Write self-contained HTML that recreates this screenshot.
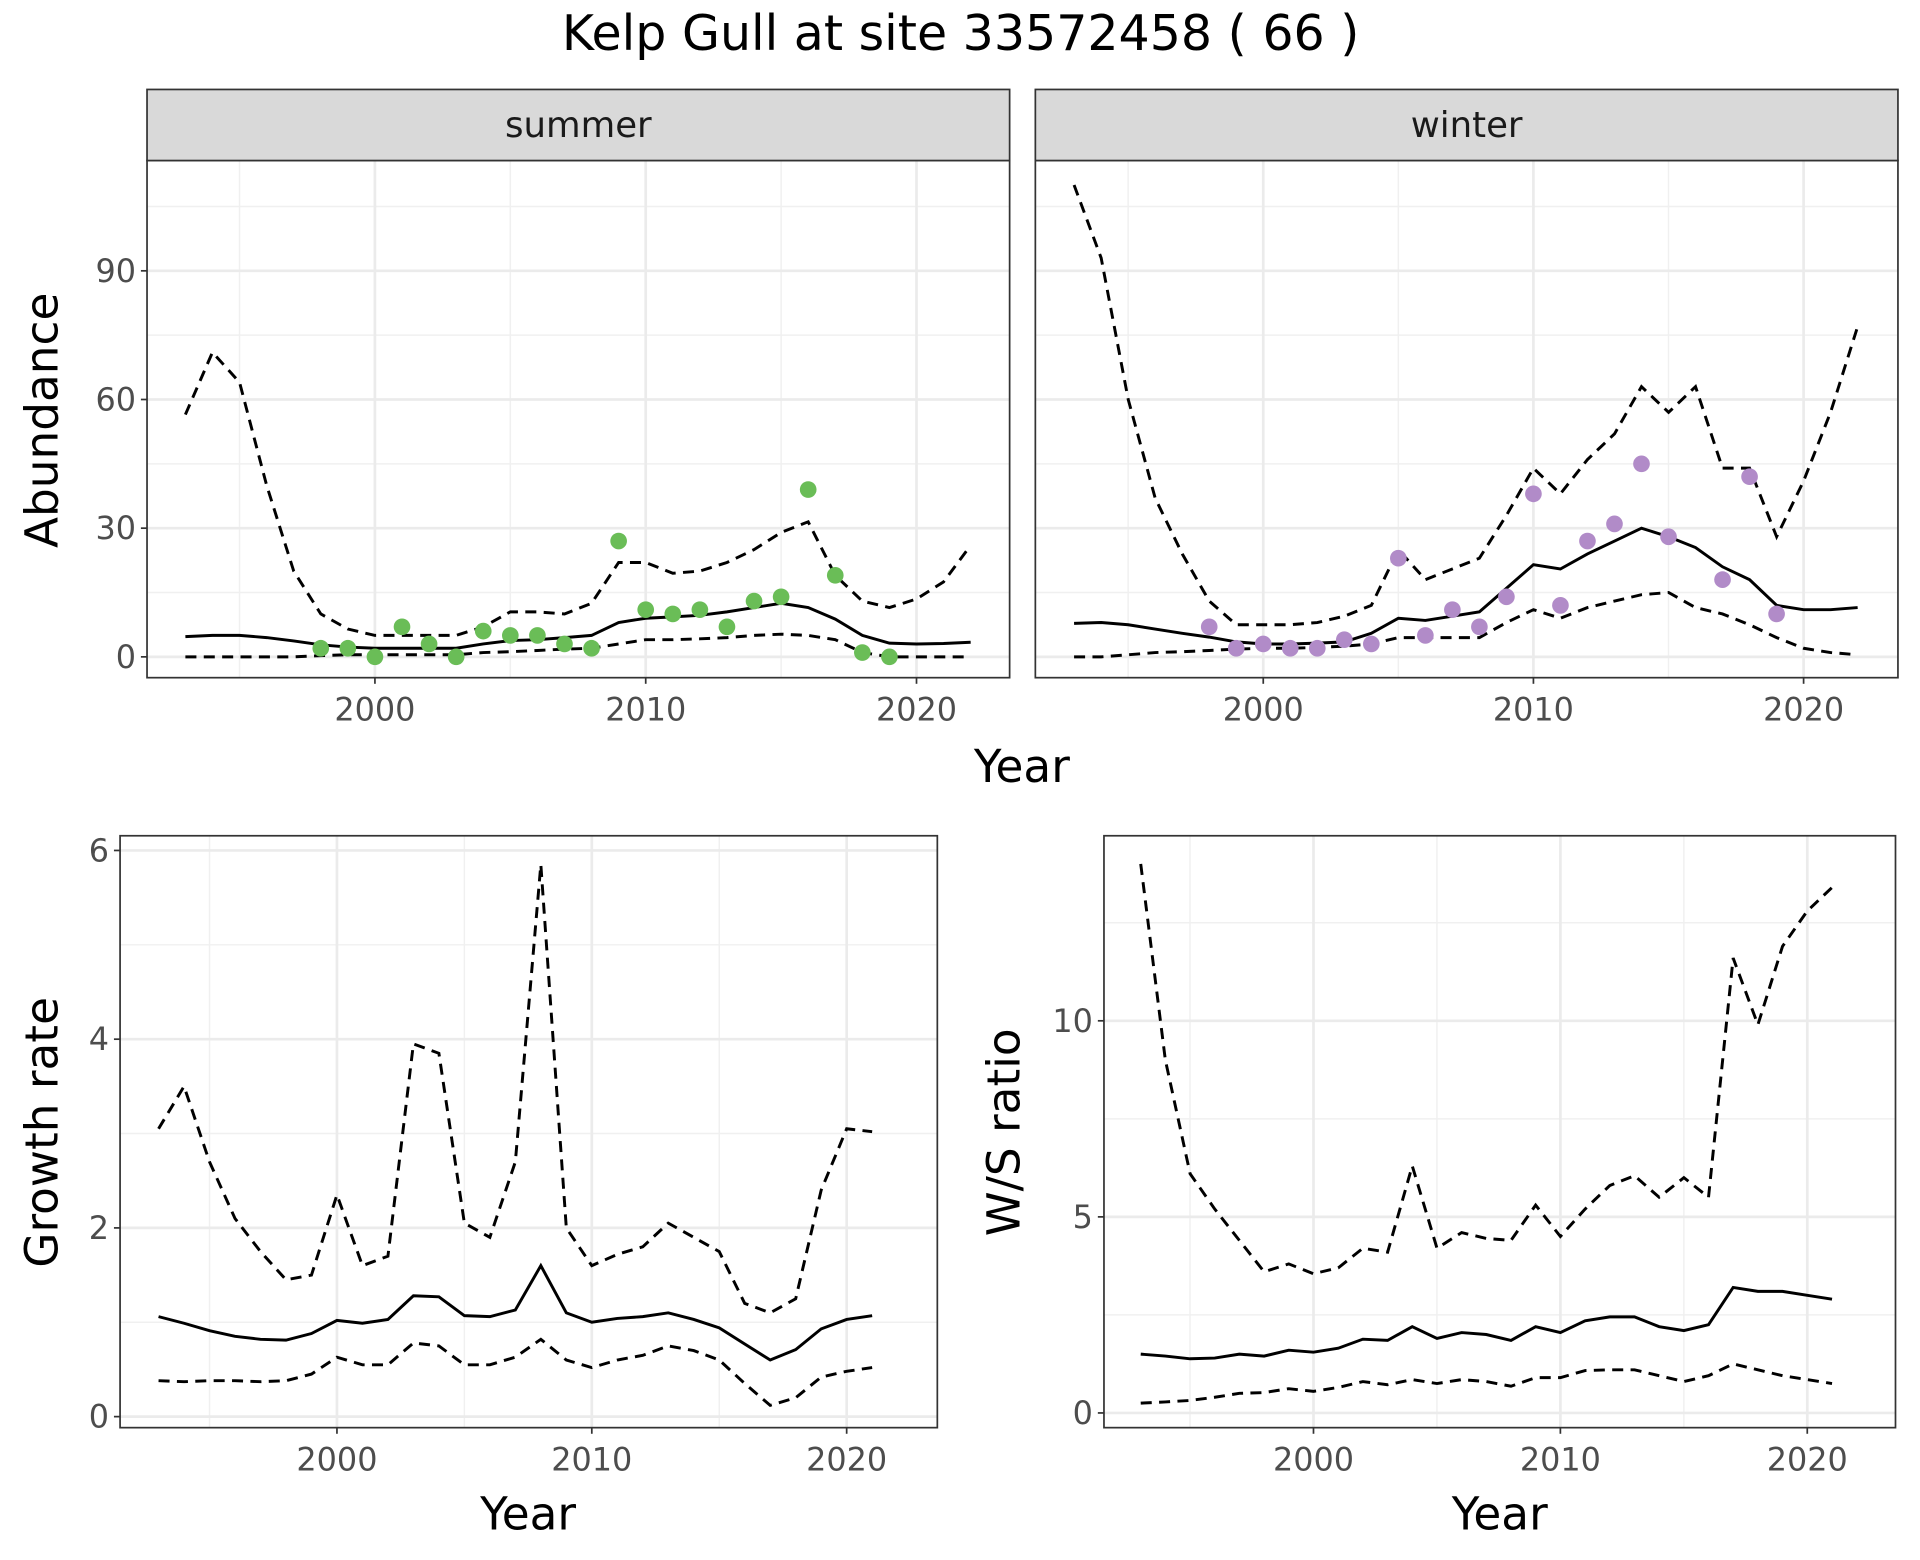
<!DOCTYPE html>
<html><head><meta charset="utf-8"><style>
html,body{margin:0;padding:0;background:#fff;}
svg{display:block;font-family:"DejaVu Sans","Liberation Sans",sans-serif;}
</style></head><body>
<svg id="chart" width="1920" height="1560" viewBox="0 0 1567 1273" preserveAspectRatio="none" xmlns="http://www.w3.org/2000/svg">
<text x="784" y="41" text-anchor="middle" font-size="40">Kelp Gull at site 33572458 ( 66 )</text>
</svg>
<script>
const yearsA = [1993,1994,1995,1996,1997,1998,1999,2000,2001,2002,2003,2004,2005,2006,2007,2008,2009,2010,2011,2012,2013,2014,2015,2016,2017,2018,2019,2020,2021,2022];
const summerMean = [4.7,5,5,4.5,3.7,2.8,2.3,2.0,2.0,2.0,2.0,3,3.8,4,4.5,5,8,9,9.3,9.7,10.5,11.5,12.5,11.5,8.8,5,3.2,3,3.1,3.4];
const summerUpper = [56.5,71,64,40,20,10,6.5,5,5,5,5,7,10.5,10.5,10,12.5,22,22,19.5,20,22,25,29,31.5,19,13,11.5,13.5,17.5,26];
const summerLower = [0,0,0,0,0,0.3,0.5,0.5,0.5,0.5,0.5,1,1.2,1.5,1.8,2,3,4,4,4.2,4.5,5,5.3,5,4,1,0,0,0,0];
const pointYears = [1998,1999,2000,2001,2002,2003,2004,2005,2006,2007,2008,2009,2010,2011,2012,2013,2014,2015,2016,2017,2018,2019];
const summerCounts = [2,2,0,7,3,0,6,5,5,3,2,27,11,10,11,7,13,14,39,19,1,0];
const winterCounts = [7,2,3,2,2,4,3,23,5,11,7,14,38,12,27,31,45,28,null,18,42,10];
const winterMean = [7.8,8,7.5,6.5,5.5,4.6,3.5,3,3,3.2,3.5,5.5,9,8.5,9.5,10.5,16,21.5,20.5,24,27,30,28,25.5,21,18,12,11,11,11.5];
const winterUpper = [110,93,60,37,24,13,7.5,7.5,7.5,8,9.5,12,25,18,20.5,23,33,44,38,46,52,63,57,63,44,44,28,41,57,77];
const winterLower = [0,0,0.5,1,1.2,1.5,1.8,2,2,2.2,2.5,3,4.5,4.5,4.5,4.5,8,11,9,11.5,13,14.5,15,11.5,10,7.5,4.5,2,1,0.5];
const yearsB = [1993,1994,1995,1996,1997,1998,1999,2000,2001,2002,2003,2004,2005,2006,2007,2008,2009,2010,2011,2012,2013,2014,2015,2016,2017,2018,2019,2020,2021];
const growthMean = [1.06,0.99,0.91,0.85,0.82,0.81,0.88,1.02,0.99,1.03,1.28,1.27,1.07,1.06,1.13,1.6,1.1,1.0,1.04,1.06,1.1,1.03,0.94,0.77,0.6,0.71,0.93,1.03,1.07];
const growthUpper = [3.05,3.5,2.7,2.1,1.75,1.45,1.5,2.35,1.6,1.7,3.95,3.85,2.05,1.9,2.7,5.85,2.0,1.6,1.72,1.8,2.05,1.9,1.75,1.2,1.1,1.25,2.4,3.05,3.02];
const growthLower = [0.38,0.37,0.38,0.38,0.37,0.38,0.45,0.63,0.55,0.55,0.78,0.75,0.55,0.55,0.63,0.82,0.6,0.52,0.6,0.65,0.75,0.7,0.6,0.35,0.12,0.2,0.42,0.48,0.52];
const ratioMean = [1.5,1.45,1.38,1.4,1.5,1.45,1.6,1.55,1.65,1.88,1.85,2.2,1.9,2.05,2.0,1.85,2.2,2.05,2.35,2.45,2.45,2.2,2.1,2.25,3.2,3.1,3.1,3.0,2.9];
const ratioUpper = [14,9,6.1,5.2,4.4,3.6,3.8,3.55,3.7,4.2,4.1,6.3,4.2,4.6,4.45,4.4,5.3,4.5,5.2,5.8,6.05,5.5,6.0,5.5,11.6,9.9,11.9,12.8,13.4];
const ratioLower = [0.25,0.28,0.32,0.4,0.5,0.52,0.62,0.55,0.65,0.8,0.72,0.85,0.75,0.85,0.8,0.68,0.9,0.9,1.08,1.1,1.1,0.95,0.8,0.95,1.25,1.1,0.95,0.85,0.75];
const xTicks = [2000,2010,2020];
const xMinor = [1995,2005,2015];
const abTicks = [0,30,60,90];
const abMinor = [15,45,75,105];
const grTicks = [0,2,4,6];
const grMinor = [1,3,5];
const raTicks = [0,5,10];
const raMinor = [2.5,7.5,12.5];

const svg = document.getElementById('chart');
const NS = 'http://www.w3.org/2000/svg';
function mk(tag, attrs, parent){const e=document.createElementNS(NS,tag);for(const k in attrs)e.setAttribute(k,attrs[k]);(parent||svg).appendChild(e);return e;}
function lin(d0,d1,r0,r1){return v=>r0+(v-d0)*(r1-r0)/(d1-d0);}

function panel(o){
  const g = mk('g',{});
  
  
  const X = lin(2000,2020,o.x2000,o.x2020), Y = lin(0,o.yRef,o.y0,o.yRefPx);
  mk('rect',{x:o.l,y:o.t,width:o.r-o.l,height:o.b-o.t,fill:'#fff'},g);
  o.xMinor.forEach(v=>mk('line',{x1:X(v),x2:X(v),y1:o.t,y2:o.b,stroke:'#f0f0f0','stroke-width':1.2},g));
  o.yMinor.forEach(v=>{if(Y(v)>o.t)mk('line',{x1:o.l,x2:o.r,y1:Y(v),y2:Y(v),stroke:'#f0f0f0','stroke-width':1.2},g);});
  o.xTicks.forEach(v=>mk('line',{x1:X(v),x2:X(v),y1:o.t,y2:o.b,stroke:'#ebebeb','stroke-width':2.2},g));
  o.yTicks.forEach(v=>mk('line',{x1:o.l,x2:o.r,y1:Y(v),y2:Y(v),stroke:'#ebebeb','stroke-width':2.2},g));
  const line=(xs,ys,dash,nm)=>{
    const p=mk('path',{d:xs.map((x,i)=>(i?'L':'M')+X(x).toFixed(1)+','+Y(ys[i]).toFixed(1)).join(''),fill:'none',stroke:'#000','stroke-width':2.4,'stroke-dasharray':dash?'9,6':'none'},g);
    
    
  };
  o.series.forEach(s=>line(o.years,s.v,s.dash,s.name));
  if(o.pts) o.pts.forEach((v,i)=>{ if(v===null) return;
    const c=mk('circle',{cx:X(pointYears[i]),cy:Y(v),r:6.8,fill:o.ptColor},g);
    
    
  });
  mk('rect',{x:o.l,y:o.t,width:o.r-o.l,height:o.b-o.t,fill:'none',stroke:'#333','stroke-width':1.4},g);
  o.xTicks.forEach(v=>{
    mk('line',{x1:X(v),x2:X(v),y1:o.b,y2:o.b+5,stroke:'#333','stroke-width':1.4},g);
    const t=mk('text',{x:X(v),y:o.b+35,'text-anchor':'middle','font-size':26,fill:'#4d4d4d'},g);t.textContent=v;
    
    
  });
  if(o.yLabels) o.yTicks.forEach(v=>{
    mk('line',{x1:o.l-5,x2:o.l,y1:Y(v),y2:Y(v),stroke:'#333','stroke-width':1.4},g);
    const t=mk('text',{x:o.l-9,y:Y(v)+9,'text-anchor':'end','font-size':26,fill:'#4d4d4d'},g);t.textContent=v;
    
    
  });
  if(o.strip){
    const s=mk('rect',{x:o.l,y:73,width:o.r-o.l,height:58,fill:'#d9d9d9',stroke:'#333','stroke-width':1.4},g);
    
    
    const t=mk('text',{x:(o.l+o.r)/2,y:112,'text-anchor':'middle','font-size':29,fill:'#1a1a1a'},g);t.textContent=o.strip;
    
    
  }
}
panel({name:'summer-panel',l:120,r:824,t:131,b:553,x2000:306,x2020:748,y0:536,yRef:90,yRefPx:221,xTicks,xMinor,yTicks:abTicks,yMinor:abMinor,yLabels:true,years:yearsA,
  series:[{v:summerUpper,dash:true,name:'summer-upper'},{v:summerLower,dash:true,name:'summer-lower'},{v:summerMean,dash:false,name:'summer-mean'}],pts:summerCounts,ptColor:'#6abd57',strip:'summer'});
panel({name:'winter-panel',l:845,r:1549,t:131,b:553,x2000:1031,x2020:1472,y0:536,yRef:90,yRefPx:221,xTicks,xMinor,yTicks:abTicks,yMinor:abMinor,yLabels:false,years:yearsA,
  series:[{v:winterUpper,dash:true,name:'winter-upper'},{v:winterLower,dash:true,name:'winter-lower'},{v:winterMean,dash:false,name:'winter-mean'}],pts:winterCounts,ptColor:'#b18bc8',strip:'winter'});
panel({name:'growth-panel',l:98,r:765,t:682,b:1165,x2000:275,x2020:691,y0:1156,yRef:6,yRefPx:694,xTicks,xMinor,yTicks:grTicks,yMinor:grMinor,yLabels:true,years:yearsB,
  series:[{v:growthUpper,dash:true,name:'growth-upper'},{v:growthLower,dash:true,name:'growth-lower'},{v:growthMean,dash:false,name:'growth-mean'}]});
panel({name:'ratio-panel',l:901,r:1547,t:682,b:1165,x2000:1072,x2020:1475,y0:1153,yRef:10,yRefPx:833,xTicks,xMinor,yTicks:raTicks,yMinor:raMinor,yLabels:true,years:yearsB,
  series:[{v:ratioUpper,dash:true,name:'ratio-upper'},{v:ratioLower,dash:true,name:'ratio-lower'},{v:ratioMean,dash:false,name:'ratio-mean'}]});

function label(txt,x,y,rot,nm){
  const t=mk('text',{x:x,y:y,'text-anchor':'middle','font-size':37,fill:'#000',transform:rot?`rotate(-90 ${x} ${y})`:''});
  t.textContent=txt;
  
  
}
label('Year',834,638,false,'x-axis-title-top');
label('Abundance',47,343,true,'y-axis-title-abundance');
label('Year',431,1248,false,'x-axis-title-growth');
label('Growth rate',47,924,true,'y-axis-title-growth');
label('Year',1224,1248,false,'x-axis-title-ratio');
label('W/S ratio',832,924,true,'y-axis-title-ratio');
</script>
</body></html>
